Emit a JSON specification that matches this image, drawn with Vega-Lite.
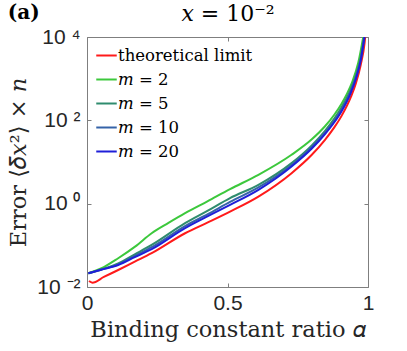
{
  "$schema": "https://vega.github.io/schema/vega-lite/v6.json",
  "width": 281,
  "height": 250,
  "autosize": {"type": "none"},
  "padding": {"left": 87, "top": 37, "right": 39, "bottom": 64},
  "background": "white",
  "title": {"text": "(a)", "anchor": "start", "frame": "bounds", "font": "DejaVu Serif", "fontSize": 20, "fontWeight": "bold", "color": "black", "dy": 24},
  "config": {
    "view": {"stroke": "#7f7f7f", "strokeWidth": 1},
    "axis": {"domain": false, "grid": false, "tickColor": "#7f7f7f", "tickSize": -4, "labelFont": "Liberation Sans", "labelFontSize": 21, "labelColor": "#262626", "titleFont": "DejaVu Serif", "titleFontSize": 22.5, "titleFontWeight": "normal", "titleColor": "#262626"}
  },
  "data": {"values": [
    {"s": "theoretical limit", "a": 0.007, "v": 0.0139},
    {"s": "theoretical limit", "a": 0.019, "v": 0.0127},
    {"s": "theoretical limit", "a": 0.06, "v": 0.0174},
    {"s": "theoretical limit", "a": 0.111, "v": 0.0256},
    {"s": "theoretical limit", "a": 0.17, "v": 0.0405},
    {"s": "theoretical limit", "a": 0.23, "v": 0.0646},
    {"s": "theoretical limit", "a": 0.349, "v": 0.195},
    {"s": "theoretical limit", "a": 0.43, "v": 0.355},
    {"s": "theoretical limit", "a": 0.509, "v": 0.646},
    {"s": "theoretical limit", "a": 0.61, "v": 1.48},
    {"s": "theoretical limit", "a": 0.728, "v": 5.4},
    {"s": "theoretical limit", "a": 0.8, "v": 14.9},
    {"s": "theoretical limit", "a": 0.847, "v": 34.1},
    {"s": "theoretical limit", "a": 0.88, "v": 67.6},
    {"s": "theoretical limit", "a": 0.906, "v": 128},
    {"s": "theoretical limit", "a": 0.9395, "v": 369},
    {"s": "theoretical limit", "a": 0.957, "v": 782},
    {"s": "theoretical limit", "a": 0.974, "v": 2133},
    {"s": "theoretical limit", "a": 0.988, "v": 7360},
    {"s": "theoretical limit", "a": 0.990, "v": 10000},
    {"s": "𝑚 = 2", "a": 0.005, "v": 0.0213},
    {"s": "𝑚 = 2", "a": 0.052, "v": 0.0282},
    {"s": "𝑚 = 2", "a": 0.111, "v": 0.049},
    {"s": "𝑚 = 2", "a": 0.171, "v": 0.093},
    {"s": "𝑚 = 2", "a": 0.23, "v": 0.195},
    {"s": "𝑚 = 2", "a": 0.29, "v": 0.345},
    {"s": "𝑚 = 2", "a": 0.349, "v": 0.59},
    {"s": "𝑚 = 2", "a": 0.43, "v": 1.15},
    {"s": "𝑚 = 2", "a": 0.509, "v": 2.23},
    {"s": "𝑚 = 2", "a": 0.61, "v": 4.92},
    {"s": "𝑚 = 2", "a": 0.728, "v": 14.9},
    {"s": "𝑚 = 2", "a": 0.8, "v": 35},
    {"s": "𝑚 = 2", "a": 0.847, "v": 72},
    {"s": "𝑚 = 2", "a": 0.88, "v": 136},
    {"s": "𝑚 = 2", "a": 0.906, "v": 250},
    {"s": "𝑚 = 2", "a": 0.924, "v": 418},
    {"s": "𝑚 = 2", "a": 0.943, "v": 805},
    {"s": "𝑚 = 2", "a": 0.9655, "v": 2432},
    {"s": "𝑚 = 2", "a": 0.983, "v": 10000},
    {"s": "𝑚 = 5", "a": 0.005, "v": 0.0213},
    {"s": "𝑚 = 5", "a": 0.05, "v": 0.0265},
    {"s": "𝑚 = 5", "a": 0.111, "v": 0.037},
    {"s": "𝑚 = 5", "a": 0.17, "v": 0.061},
    {"s": "𝑚 = 5", "a": 0.23, "v": 0.102},
    {"s": "𝑚 = 5", "a": 0.349, "v": 0.34},
    {"s": "𝑚 = 5", "a": 0.43, "v": 0.68},
    {"s": "𝑚 = 5", "a": 0.509, "v": 1.36},
    {"s": "𝑚 = 5", "a": 0.61, "v": 2.83},
    {"s": "𝑚 = 5", "a": 0.728, "v": 9.4},
    {"s": "𝑚 = 5", "a": 0.8, "v": 25},
    {"s": "𝑚 = 5", "a": 0.847, "v": 56},
    {"s": "𝑚 = 5", "a": 0.88, "v": 110},
    {"s": "𝑚 = 5", "a": 0.906, "v": 205},
    {"s": "𝑚 = 5", "a": 0.9395, "v": 578},
    {"s": "𝑚 = 5", "a": 0.957, "v": 1202},
    {"s": "𝑚 = 5", "a": 0.974, "v": 3200},
    {"s": "𝑚 = 5", "a": 0.9864, "v": 10000},
    {"s": "𝑚 = 10", "a": 0.005, "v": 0.0213},
    {"s": "𝑚 = 10", "a": 0.05, "v": 0.026},
    {"s": "𝑚 = 10", "a": 0.111, "v": 0.035},
    {"s": "𝑚 = 10", "a": 0.17, "v": 0.056},
    {"s": "𝑚 = 10", "a": 0.23, "v": 0.09},
    {"s": "𝑚 = 10", "a": 0.349, "v": 0.29},
    {"s": "𝑚 = 10", "a": 0.43, "v": 0.56},
    {"s": "𝑚 = 10", "a": 0.509, "v": 1.1},
    {"s": "𝑚 = 10", "a": 0.61, "v": 2.45},
    {"s": "𝑚 = 10", "a": 0.728, "v": 8.5},
    {"s": "𝑚 = 10", "a": 0.8, "v": 23},
    {"s": "𝑚 = 10", "a": 0.847, "v": 51},
    {"s": "𝑚 = 10", "a": 0.88, "v": 97},
    {"s": "𝑚 = 10", "a": 0.906, "v": 180},
    {"s": "𝑚 = 10", "a": 0.9395, "v": 510},
    {"s": "𝑚 = 10", "a": 0.957, "v": 1080},
    {"s": "𝑚 = 10", "a": 0.974, "v": 2950},
    {"s": "𝑚 = 10", "a": 0.987, "v": 10000},
    {"s": "𝑚 = 20", "a": 0.005, "v": 0.0213},
    {"s": "𝑚 = 20", "a": 0.05, "v": 0.026},
    {"s": "𝑚 = 20", "a": 0.111, "v": 0.0338},
    {"s": "𝑚 = 20", "a": 0.17, "v": 0.052},
    {"s": "𝑚 = 20", "a": 0.23, "v": 0.0806},
    {"s": "𝑚 = 20", "a": 0.349, "v": 0.258},
    {"s": "𝑚 = 20", "a": 0.43, "v": 0.5},
    {"s": "𝑚 = 20", "a": 0.509, "v": 0.935},
    {"s": "𝑚 = 20", "a": 0.61, "v": 2.15},
    {"s": "𝑚 = 20", "a": 0.728, "v": 7.8},
    {"s": "𝑚 = 20", "a": 0.8, "v": 21},
    {"s": "𝑚 = 20", "a": 0.847, "v": 46.8},
    {"s": "𝑚 = 20", "a": 0.88, "v": 90},
    {"s": "𝑚 = 20", "a": 0.906, "v": 166},
    {"s": "𝑚 = 20", "a": 0.9395, "v": 470},
    {"s": "𝑚 = 20", "a": 0.957, "v": 995},
    {"s": "𝑚 = 20", "a": 0.974, "v": 2716},
    {"s": "𝑚 = 20", "a": 0.9874, "v": 10000}
  ]},
  "layer": [
    {
      "mark": {"type": "line", "interpolate": "monotone", "strokeWidth": 2, "clip": true},
      "encoding": {
        "x": {"field": "a", "type": "quantitative", "scale": {"domain": [0, 1], "nice": false, "zero": false},
              "axis": {"orient": "bottom", "values": [0, 0.5, 1], "format": "~g", "labelFlush": false, "labelPadding": 9, "title": "Binding constant ratio 𝛼", "titlePadding": 5}},
        "y": {"field": "v", "type": "quantitative", "scale": {"type": "log", "domain": [0.01, 10000], "nice": false},
              "axis": {"orient": "left", "values": [0.01, 1, 100, 10000], "labelPadding": 11,
                       "labelExpr": "datum.value < 0.1 ? '10 ⁻²' : datum.value < 10 ? '10 ⁰' : datum.value < 1000 ? '10 ²' : '10 ⁴'",
                       "title": "Error ⟨𝛿𝑥²⟩ × 𝑛", "titlePadding": 6}},
        "color": {"field": "s", "type": "nominal",
                  "scale": {"domain": ["theoretical limit", "𝑚 = 2", "𝑚 = 5", "𝑚 = 10", "𝑚 = 20"],
                            "range": ["#ff1a1a", "#3cc83c", "#2f8c6e", "#3563a8", "#1f1fd8"]},
                  "legend": {"title": null, "orient": "none", "legendX": 8, "legendY": 7, "symbolType": "stroke", "symbolSize": 420, "symbolStrokeWidth": 2, "labelFont": "DejaVu Serif", "labelFontSize": 16.5, "labelColor": "black", "labelOffset": 0, "rowPadding": 4, "padding": 0}}
      }
    },
    {
      "mark": {"type": "line", "opacity": 0},
      "encoding": {
        "x": {"field": "a", "type": "quantitative", "axis": {"orient": "top", "values": [0, 0.5, 1], "labels": false, "title": "𝑥 = 10⁻²", "titlePadding": 11, "titleColor": "black", "titleFontSize": 22}},
        "y": {"field": "v", "type": "quantitative", "axis": {"orient": "right", "values": [0.01, 1, 100, 10000], "labels": false, "title": null}}
      }
    }
  ],
  "resolve": {"axis": {"x": "independent", "y": "independent"}}
}
